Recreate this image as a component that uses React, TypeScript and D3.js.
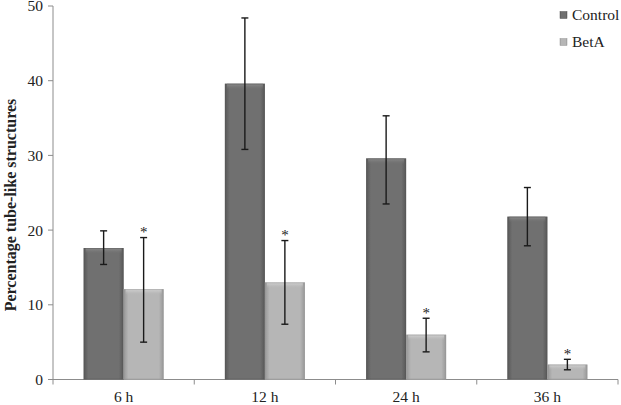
import React from "react";
import { scaleBand, scaleLinear } from "d3";

const categories = ["6 h", "12 h", "24 h", "36 h"];
const seriesNames = ["Control", "BetA"];
const controlValues = [17.6, 39.6, 29.6, 21.8];
const controlErrLow = [15.4, 30.8, 23.5, 17.9];
const controlErrHigh = [19.9, 48.4, 35.3, 25.7];
const betaValues = [12.1, 13.0, 6.0, 2.0];
const betaErrLow = [5.0, 7.4, 3.7, 1.3];
const betaErrHigh = [19.0, 18.6, 8.2, 2.7];
const betaSignificant = [true, true, true, true];
const yTicks = [0, 10, 20, 30, 40, 50];

const width = 621;
const height = 405;
const margin = { top: 6, right: 3, bottom: 25.5, left: 53 };
const innerWidth = width - margin.left - margin.right;
const innerHeight = height - margin.top - margin.bottom;

const palette = {
  Control: { edge: "#575757", mid: "#707070", bevel: "#8e8e8e" },
  BetA: { edge: "#979797", mid: "#b6b6b6", bevel: "#d6d6d6" },
};

const App = () => {
  const xScale = scaleBand<string>().domain(categories).range([0, innerWidth]);
  const yScale = scaleLinear().domain([0, 50]).range([innerHeight, 0]);
  const barW = 40;

  const series = [
    { name: "Control", values: controlValues, lo: controlErrLow, hi: controlErrHigh },
    { name: "BetA", values: betaValues, lo: betaErrLow, hi: betaErrHigh },
  ];

  return (
    <svg
      width={width}
      height={height}
      style={{ position: "absolute", left: 0, top: 0, background: "#fff" }}
      fontFamily="Liberation Serif, Times New Roman, serif"
    >
      <defs>
        {seriesNames.map((n) => {
          const p = palette[n as keyof typeof palette];
          return (
            <React.Fragment key={n}>
              <linearGradient id={`h-${n}`} x1="0" x2="1" y1="0" y2="0">
                <stop offset="0" stopColor={p.edge} />
                <stop offset="0.12" stopColor={p.mid} />
                <stop offset="0.88" stopColor={p.mid} />
                <stop offset="1" stopColor={p.edge} />
              </linearGradient>
              <linearGradient id={`v-${n}`} x1="0" x2="0" y1="0" y2="1">
                <stop offset="0" stopColor={p.bevel} />
                <stop offset="1" stopColor={p.mid} stopOpacity={0} />
              </linearGradient>
            </React.Fragment>
          );
        })}
      </defs>
      <g transform={`translate(${margin.left},${margin.top})`}>
        {/* y axis */}
        <line x1={0} y1={0} x2={0} y2={innerHeight} stroke="#8c8c8c" />
        {yTicks.map((t) => (
          <g key={t}>
            <line x1={-5} x2={0} y1={yScale(t)} y2={yScale(t)} stroke="#8c8c8c" />
            <text
              x={-10}
              y={yScale(t)}
              dy="0.35em"
              textAnchor="end"
              fontSize={15.5}
              fill="#222"
            >
              {t}
            </text>
          </g>
        ))}
        {/* x axis */}
        <line x1={0} x2={innerWidth} y1={innerHeight} y2={innerHeight} stroke="#8c8c8c" />
        {[...categories.map((c) => xScale(c) as number), innerWidth].map((x, i) => (
          <line key={i} x1={x} x2={x} y1={innerHeight} y2={innerHeight + 5} stroke="#8c8c8c" />
        ))}
        {categories.map((c) => (
          <text
            key={c}
            x={(xScale(c) as number) + xScale.bandwidth() / 2}
            y={innerHeight + 22}
            textAnchor="middle"
            fontSize={15.5}
            fill="#222"
          >
            {c}
          </text>
        ))}

        {/* bars */}
        {categories.map((c, i) => {
          const cx = (xScale(c) as number) + xScale.bandwidth() / 2;
          return (
            <g key={c}>
              {series.map((s, j) => {
                const x = cx - barW + j * barW;
                const y = yScale(s.values[i]);
                const h = innerHeight - y;
                const bevel = Math.min(6, h);
                return (
                  <g key={s.name}>
                    <rect x={x} y={y} width={barW} height={h} fill={`url(#h-${s.name})`} />
                    <rect x={x + 2} y={y} width={barW - 4} height={bevel} fill={`url(#v-${s.name})`} />
                    <rect
                      x={x + 0.5}
                      y={y + 0.5}
                      width={barW - 1}
                      height={Math.max(0, h - 1)}
                      fill="none"
                      stroke={palette[s.name as keyof typeof palette].edge}
                      strokeOpacity={0.5}
                    />
                  </g>
                );
              })}
              {series.map((s, j) => {
                const ex = cx - barW / 2 + j * barW;
                const yHi = yScale(s.hi[i]);
                const yLo = yScale(s.lo[i]);
                return (
                  <g key={s.name} stroke="#1a1a1a" strokeWidth={1.4}>
                    <line x1={ex} x2={ex} y1={yHi} y2={yLo} />
                    <line x1={ex - 3.5} x2={ex + 3.5} y1={yHi} y2={yHi} />
                    <line x1={ex - 3.5} x2={ex + 3.5} y1={yLo} y2={yLo} />
                  </g>
                );
              })}
              {betaSignificant[i] && (
                <text
                  x={cx + barW / 2}
                  y={yScale(betaErrHigh[i]) - 0.5}
                  textAnchor="middle"
                  fontSize={15}
                  fill="#222"
                >
                  *
                </text>
              )}
            </g>
          );
        })}
      </g>

      {/* y label */}
      <text
        transform={`translate(16,205) rotate(-90)`}
        textAnchor="middle"
        fontSize={16}
        fontWeight="bold"
        fill="#222"
      >
        Percentage tube-like structures
      </text>

      {/* legend */}
      {seriesNames.map((n, i) => (
        <g key={n} transform={`translate(560,${15 + i * 27})`}>
          <rect x={0} y={-3.5} width={7} height={7} fill={`url(#h-${n})`} stroke={palette[n as keyof typeof palette].edge} strokeWidth={0.5} />
          <text x={12} y={0} dy="0.35em" fontSize={15.5} fill="#222">
            {n}
          </text>
        </g>
      ))}
    </svg>
  );
};

export default App;
